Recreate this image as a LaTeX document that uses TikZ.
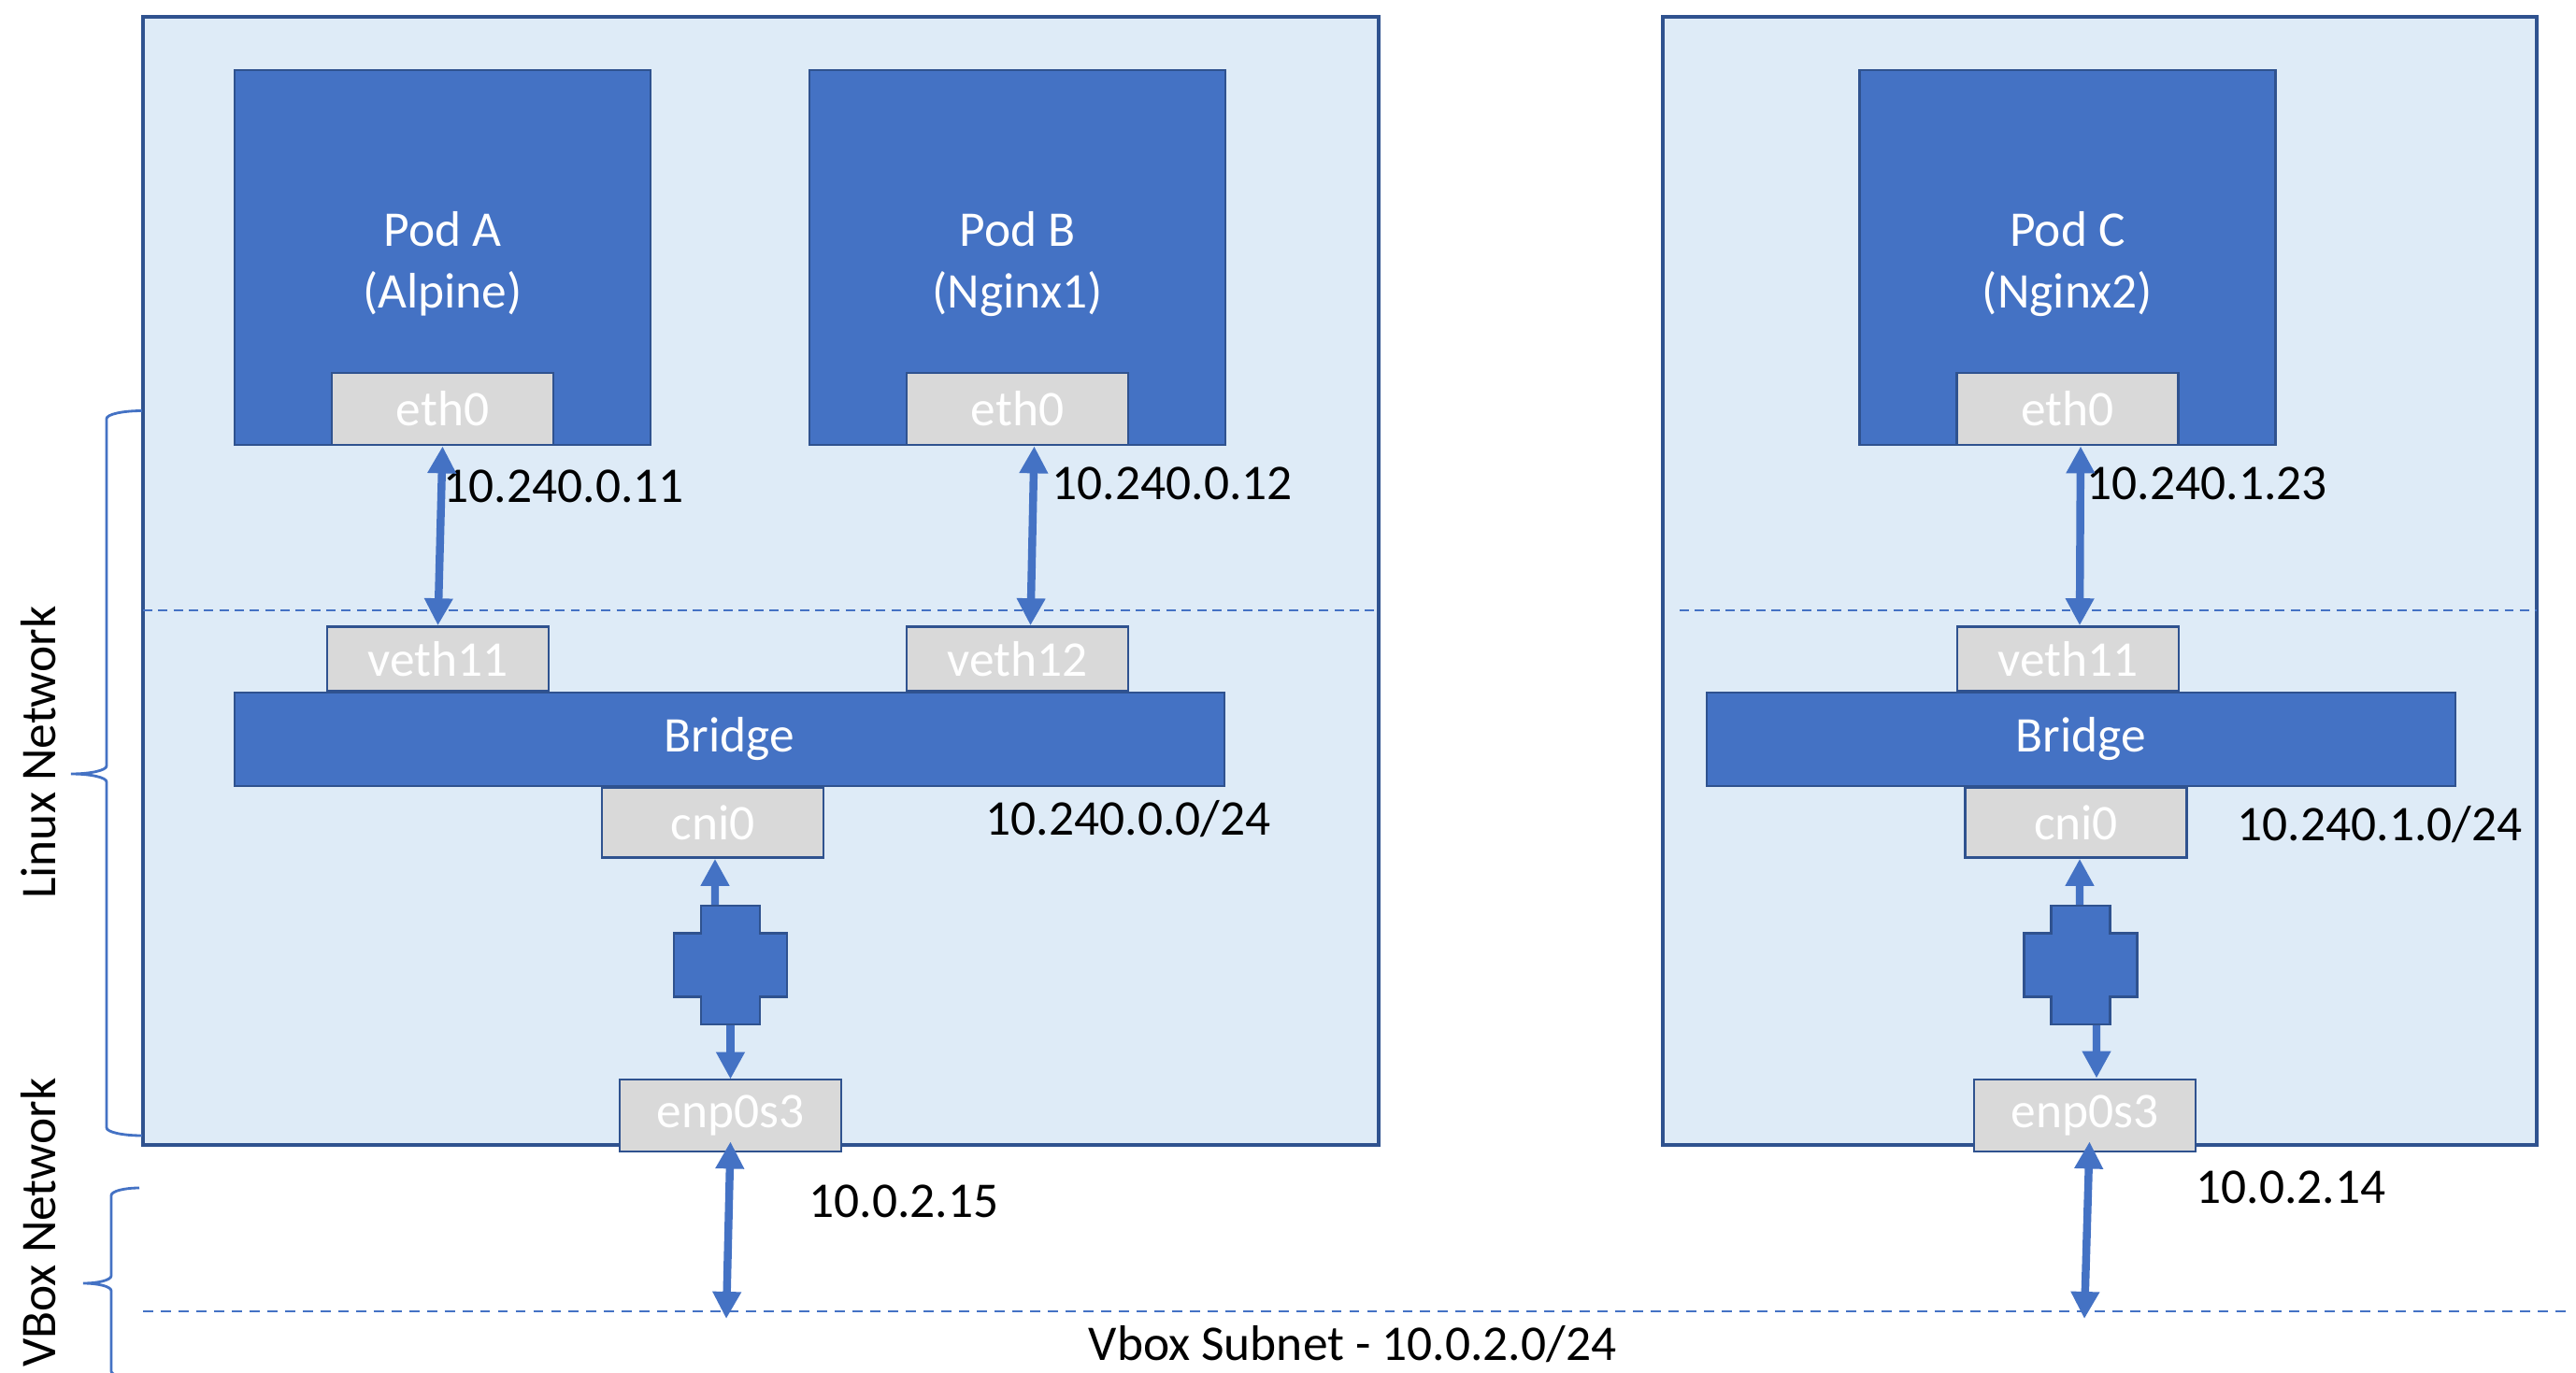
\documentclass[tikz,border=0pt]{standalone}
\usepackage{fontspec}
\setmainfont{Carlito}
\usepackage{tikz}
\usetikzlibrary{arrows.meta, positioning}

\definecolor{podblue}{HTML}{4472C4}
\definecolor{edgeblue}{HTML}{2F528F}
\definecolor{hostbg}{HTML}{DEEBF7}
\definecolor{ifgray}{HTML}{D9D9D9}

\tikzset{
  pics/relay/.style={code={
    \draw[draw=edgeblue, fill=podblue, line width=0.8pt]
      (-0.315,0.635) -- (0.315,0.635) -- (0.315,0.34) -- (0.605,0.34) -- (0.605,-0.34) -- (0.315,-0.34)
      -- (0.315,-0.635) -- (-0.315,-0.635) -- (-0.315,-0.34) -- (-0.605,-0.34) -- (-0.605,0.34) -- (-0.315,0.34) -- cycle;
  }}
}

\begin{document}
\begin{tikzpicture}[font=\fontsize{15.2pt}{18.8pt}\selectfont,
            >={Triangle[length=0.29cm, width=0.29cm]},
            host/.style={draw=edgeblue, fill=hostbg, line width=1.1pt, rectangle, minimum width=#1, minimum height=12.07cm, inner sep=0pt},
            pod/.style={draw=edgeblue, fill=podblue, line width=0.8pt, minimum width=4.45cm, minimum height=4.01cm, inner sep=0pt},
            podtext/.style={text=white, align=center, inner sep=0pt},
            bridge/.style={draw=edgeblue, fill=podblue, line width=0.8pt, minimum width=#1, minimum height=1cm, text=white, inner sep=0pt},
            iface/.style={draw=edgeblue, fill=ifgray, line width=0.8pt, minimum width=2.37cm, minimum height=#1, text=white, inner sep=0pt},
            iface/.default=0.77cm,
            relaybox/.style={minimum width=0.63cm, minimum height=1.27cm, inner sep=0pt, outer sep=0pt},
            ip/.style={anchor=base west, inner sep=0pt},
            sep/.style={draw=podblue, line width=0.45pt, dash pattern=on 2.8pt off 1.85pt},
            subnet/.style={draw=podblue, line width=0.7pt, dash pattern=on 3.1pt off 2.3pt},
            link/.style={draw=podblue, line width=2.4pt, <->},
            hop/.style={draw=podblue, line width=2.4pt, ->},
            brace/.style={draw=podblue, line width=0.8pt}]
            \useasboundingbox (0,0) rectangle (27.56,14.68);

            % hosts
            \node[host=13.22cm] (hostL) at (8.14,8.465) {};
            \node[host=9.35cm] (hostR) at (22.465,8.465) {};
            \draw[sep] (1.53,8.15) -- (14.75,8.15);
            \draw[sep] (17.97,8.15) -- (27.14,8.15);
            \draw[subnet] (1.53,0.65) -- (27.51,0.65);

            % pods
            \node[pod] (podA) at (4.735,11.925) {};
            \node[pod] (podB) at (10.885,11.925) {};
            \node[pod] (podC) at (22.12,11.925) {};
            \node[podtext] (podAtxt) at ([yshift=-0.07cm]podA.center) {Pod A\\(Alpine)};
            \node[podtext] (podBtxt) at ([yshift=-0.07cm]podB.center) {Pod B\\(Nginx1)};
            \node[podtext] (podCtxt) at ([yshift=-0.07cm]podC.center) {Pod C\\(Nginx2)};
            \node[iface, anchor=south] (ethA) at (podA.south) {eth0};
            \node[iface, anchor=south] (ethB) at (podB.south) {eth0};
            \node[iface, anchor=south] (ethC) at (podC.south) {eth0};

            % bridges
            \node[bridge=10.59cm] (brL) at (7.805,6.77) {Bridge};
            \node[bridge=8.01cm] (brR) at (22.265,6.77) {Bridge};
            \node[iface=0.69cm, anchor=south] (vethA) at (4.685,7.27) {veth11};
            \node[iface=0.69cm, anchor=south] (vethB) at (10.885,7.27) {veth12};
            \node[iface=0.69cm, anchor=south] (vethC) at (22.125,7.27) {veth11};
            \node[iface=0.75cm, anchor=north] (cniL) at (7.625,6.27) {cni0};
            \node[iface=0.75cm, anchor=north] (cniR) at (22.21,6.27) {cni0};

            % relays and host interfaces
            \node[iface] (enpL) at (7.815,2.745) {enp0s3};
            \node[iface] (enpR) at (22.305,2.745) {enp0s3};
            \node[relaybox] (crossL) at (7.815,4.355) {};
            \node[relaybox] (crossR) at (22.26,4.355) {};
            \draw[hop] ([xshift=-0.165cm, yshift=-0.1cm]crossL.north) -- ([xshift=0.025cm]cniL.south);
            \draw[hop] ([yshift=0.1cm]crossL.south) -- ([yshift=-0.01cm]enpL.north);
            \draw[hop] ([xshift=-0.01cm, yshift=-0.1cm]crossR.north) -- ([xshift=0.04cm]cniR.south);
            \draw[hop] ([xshift=0.17cm, yshift=0.1cm]crossR.south) -- ([xshift=0.125cm]enpR.north);
            \pic at (7.815,4.355) {relay};
            \pic at (22.26,4.355) {relay};
            \coordinate (vbL) at (7.77,0.57);
            \coordinate (vbR) at (22.30,0.57);

            % addresses
            \node[ip] (ipA) at (4.74,9.31) {10.240.0.11};
            \node[ip] (ipB) at (11.25,9.34) {10.240.0.12};
            \node[ip] (ipC) at (22.32,9.34) {10.240.1.23};
            \node[ip] (netL) at (10.54,5.75) {10.240.0.0/24};
            \node[ip] (netR) at (23.93,5.69) {10.240.1.0/24};
            \node[ip] (hipL) at (8.65,1.66) {10.0.2.15};
            \node[ip] (hipR) at (23.49,1.81) {10.0.2.14};
            \node[ip] (vbnet) at (11.64,0.13) {Vbox Subnet - 10.0.2.0/24};

            % braces
            \draw[brace] (1.52,10.285) arc[start angle=90, end angle=180, x radius=0.38, y radius=0.085] -- (1.14,6.485)
              arc[start angle=0, end angle=-90, x radius=0.38, y radius=0.085]
              arc[start angle=90, end angle=0, x radius=0.38, y radius=0.085] -- (1.14,2.615)
              arc[start angle=180, end angle=270, x radius=0.38, y radius=0.085];
            \draw[brace] (1.49,1.97) arc[start angle=90, end angle=180, x radius=0.3, y radius=0.08] -- (1.19,1.03)
              arc[start angle=0, end angle=-90, x radius=0.3, y radius=0.08]
              arc[start angle=90, end angle=0, x radius=0.3, y radius=0.08] -- (1.19,0.01)
              arc[start angle=180, end angle=270, x radius=0.3, y radius=0.08];
            \node[rotate=90, inner sep=0pt] (linuxlbl) at (0.41,6.63) {Linux Network};
            \node[rotate=90, inner sep=0pt] (vboxlbl) at (0.41,1.60) {VBox Network};

            % links
            \draw[link] (ethA.south) -- (vethA.north);
            \draw[link] ([xshift=0.18cm]ethB.south) -- ([xshift=0.14cm]vethB.north);
            \draw[link] ([xshift=0.14cm]ethC.south) -- ([xshift=0.125cm]vethC.north);
            \draw[link] ([yshift=0.12cm]enpL.south) -- (vbL);
            \draw[link] ([xshift=0.05cm, yshift=0.12cm]enpR.south) -- (vbR);
        \end{tikzpicture}
\end{document}
